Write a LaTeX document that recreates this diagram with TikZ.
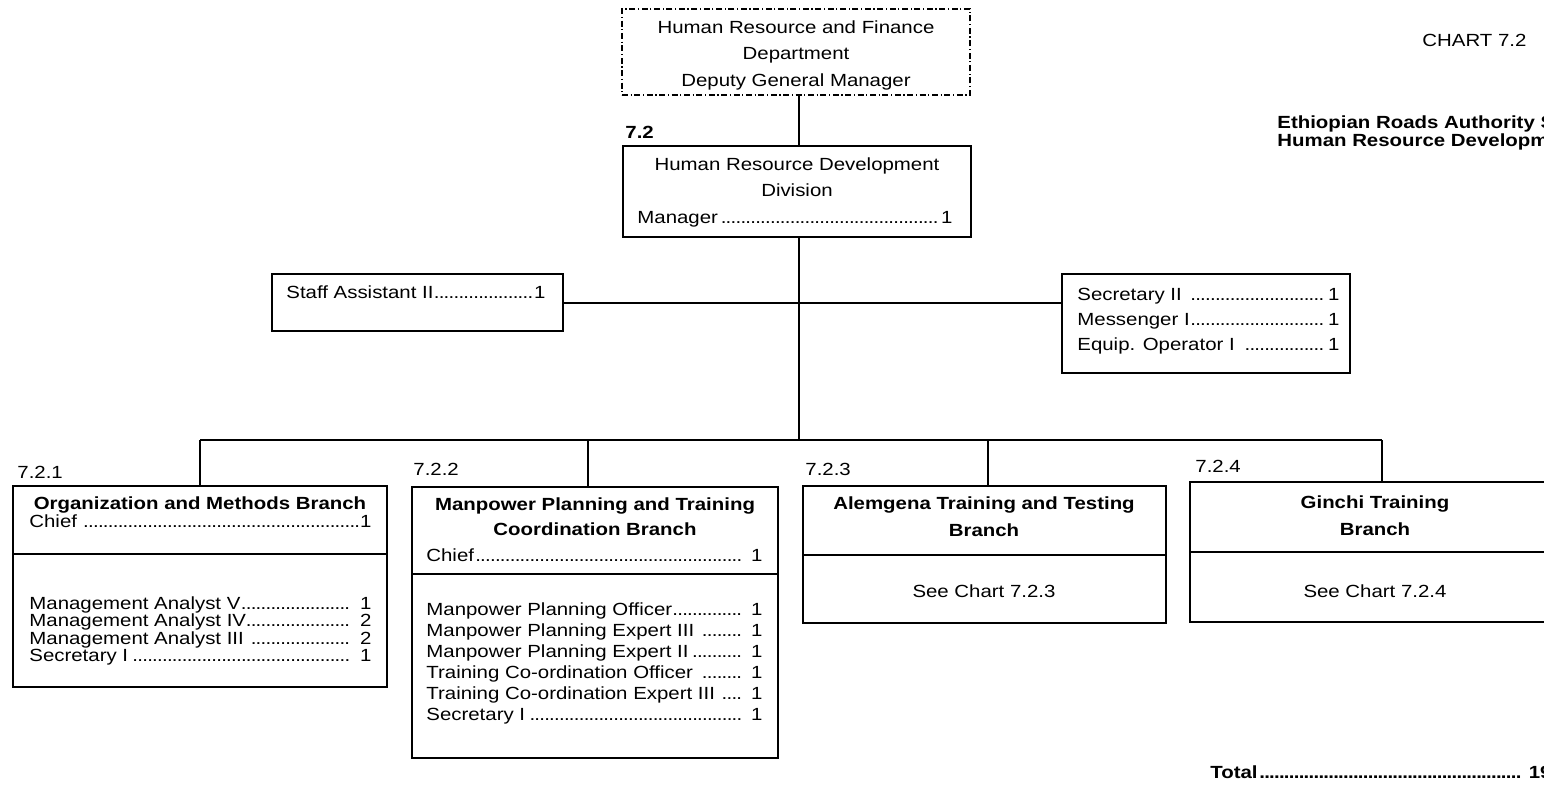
\documentclass[tikz,border=0pt]{standalone}
\usepackage{fontspec}
\setmainfont{Liberation Sans}[FakeStretch=1.16]
\usetikzlibrary{fit}
\newcommand{\drow}[3]{\hbox to #1{#2\leaders\hbox to 0.28em{\hss.\hss}\hfill#3}}
\tikzset{
  box/.style={draw, line width=0.6pt, inner sep=0pt},
  dbox/.style={box, dash pattern=on 3pt off 1.3pt on 0.6pt off 1.3pt},
  txt/.style={inner sep=0pt, font=\fontsize{8.8}{10}\selectfont},
  ttl/.style={inner sep=0pt, font=\fontsize{8.8}{10}\selectfont\bfseries},
  conn/.style={line width=0.6pt},
}
\begin{document}
\begin{tikzpicture}[x=0.5pt, y=-0.5pt]
\useasboundingbox (0,0) rectangle (1544,784);
\clip (0,0) rectangle (1544,784);
\fill[white] (0,0) rectangle (1544,784);

% boxes
\node[dbox, fit={(622,9) (970,95)}] (hf) {};
\node[box, fit={(623,146) (971,237)}] (hrd) {};
\node[box, fit={(272,274) (563,331)}] (sa) {};
\node[box, fit={(1062,274) (1350,373)}] (sec) {};
\node[box, fit={(13,486) (387,687)}] (b1) {};
\node[box, fit={(412,487) (778,758)}] (b2) {};
\node[box, fit={(803,486) (1166,623)}] (b3) {};
\node[box, fit={(1190,482) (1562,622)}] (b4) {};

% dividers
\draw[conn] (b1.west |- 0,554) -- (b1.east |- 0,554);
\draw[conn] (b2.west |- 0,574) -- (b2.east |- 0,574);
\draw[conn] (b3.west |- 0,555) -- (b3.east |- 0,555);
\draw[conn] (b4.west |- 0,552) -- (b4.east |- 0,552);

% connectors
\coordinate (tr) at (799,440);
\coordinate (d1) at (200,440);
\coordinate (d2) at (588,440);
\coordinate (d3) at (988,440);
\coordinate (d4) at (1382,440);
\draw[conn] (hf.south -| tr) -- (hrd.north -| tr);
\draw[conn] (hrd.south -| tr) -- (tr);
\draw[conn] (sa.east |- 0,303) -- (sec.west |- 0,303);
\draw[conn] (d1) -- (d4);
\draw[conn] (d1) -- (d1 |- b1.north);
\draw[conn] (d2) -- (d2 |- b2.north);
\draw[conn] (d3) -- (d3 |- b3.north);
\draw[conn] (d4) -- (d4 |- b4.north);

% top box text
\node[txt, anchor=base] (hf1) at (796,33) {Human Resource and Finance};
\node[txt, anchor=base] (hf2) at (796,59) {Department};
\node[txt, anchor=base] (hf3) at (796,86) {Deputy General Manager};

% division
\node[ttl, anchor=base west] (l72) at (625,138) {7.2};
\node[txt, anchor=base] (hr1) at (797,170) {Human Resource Development};
\node[txt, anchor=base] (hr2) at (797,196) {Division};
\node[txt, anchor=base west] (hr3) at (637,223) {\drow{157.5pt}{Manager}{1}};

% staff
\node[txt, anchor=base west] (sa1) at (286,298) {\drow{129.5pt}{Staff Assistant II}{1}};
\node[txt, anchor=base west] (se1) at (1077,300) {\drow{131pt}{Secretary II }{1}};
\node[txt, anchor=base west] (se2) at (1077,325) {\drow{131pt}{Messenger I}{1}};
\node[txt, anchor=base west] (se3) at (1077,350) {\drow{131pt}{Equip. Operator I }{1}};

% branch labels
\node[txt, anchor=base west] (l721) at (17,478) {7.2.1};
\node[txt, anchor=base west] (l722) at (413,475) {7.2.2};
\node[txt, anchor=base west] (l723) at (805,475) {7.2.3};
\node[txt, anchor=base west] (l724) at (1195,472) {7.2.4};

% branch 1
\node[ttl, anchor=base] (b1t) at (200,509) {Organization and Methods Branch};
\node[txt, anchor=base west] (b1c) at (29,527) {\drow{171pt}{Chief }{1}};
\node[txt, anchor=base west] (b1r1) at (29,609) {\drow{171pt}{Management Analyst V}{ 1}};
\node[txt, anchor=base west] (b1r2) at (29,626.5) {\drow{171pt}{Management Analyst IV}{ 2}};
\node[txt, anchor=base west] (b1r3) at (29,644) {\drow{171pt}{Management Analyst III }{ 2}};
\node[txt, anchor=base west] (b1r4) at (29,661.5) {\drow{171pt}{Secretary I}{ 1}};

% branch 2
\node[ttl, anchor=base] (b2t1) at (595,510) {Manpower Planning and Training};
\node[ttl, anchor=base] (b2t2) at (595,535) {Coordination Branch};
\node[txt, anchor=base west] (b2c) at (426,561) {\drow{168pt}{Chief}{ 1}};
\node[txt, anchor=base west] (b2r1) at (426,615) {\drow{168pt}{Manpower Planning Officer}{ 1}};
\node[txt, anchor=base west] (b2r2) at (426,636) {\drow{168pt}{Manpower Planning Expert III }{ 1}};
\node[txt, anchor=base west] (b2r3) at (426,657) {\drow{168pt}{Manpower Planning Expert II}{ 1}};
\node[txt, anchor=base west] (b2r4) at (426,678) {\drow{168pt}{Training Co-ordination Officer }{ 1}};
\node[txt, anchor=base west] (b2r5) at (426,699) {\drow{168pt}{Training Co-ordination Expert III }{ 1}};
\node[txt, anchor=base west] (b2r6) at (426,720) {\drow{168pt}{Secretary I}{ 1}};

% branch 3
\node[ttl, anchor=base] (b3t1) at (984,509) {Alemgena Training and Testing};
\node[ttl, anchor=base] (b3t2) at (984,536) {Branch};
\node[txt, anchor=base] (b3s) at (984,597) {See Chart 7.2.3};

% branch 4
\node[ttl, anchor=base] (b4t1) at (1375,508) {Ginchi Training};
\node[ttl, anchor=base] (b4t2) at (1375,535) {Branch};
\node[txt, anchor=base] (b4s) at (1375,597) {See Chart 7.2.4};

% titles
\node[txt, anchor=base west] (chart) at (1422,46) {CHART 7.2};
\node[ttl, anchor=base west] (era1) at (1277,128) {Ethiopian Roads Authority S};
\node[ttl, anchor=base west] (era2) at (1277,146) {Human Resource Developm};
\node[ttl, anchor=base west] (tot) at (1210,778) {\drow{170.5pt}{Total}{ 19}};
\end{tikzpicture}
\end{document}
